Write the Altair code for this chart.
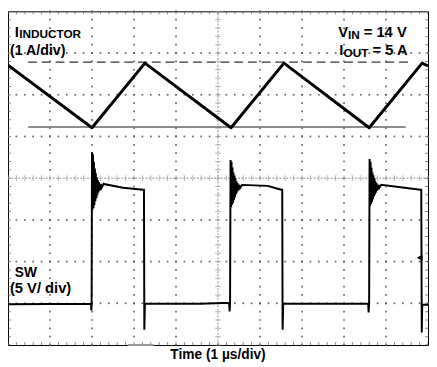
import altair as alt
import pandas as pd

# ---- traces (time in divisions = µs, amplitude in screen divisions, 0 = bottom) ----
ind_t = [0.00, 2.00, 3.26, 5.31, 6.57, 8.60, 9.86, 10.00]
ind_v = [6.71, 5.21, 6.76, 5.21, 6.76, 5.21, 6.76, 6.69]

# switch node: low level, rising edge with ringing, high level, falling edge (x3)
sw_t = [0.000, 1.977, 1.984, 1.991, 2.000,
        2.0115, 2.0230, 2.0345, 2.0460, 2.0575, 2.0690, 2.0805, 2.0920, 2.1034, 2.1149,
        2.1264, 2.1379, 2.1494, 2.1655, 2.1839, 2.2069, 2.2299, 2.2759,
        2.736, 3.218, 3.237, 3.246, 3.260,
        4.575, 5.264, 5.276, 5.287, 5.299,
        5.3105, 5.3220, 5.3335, 5.3450, 5.3565, 5.3680, 5.3795, 5.3910, 5.4024, 5.4139,
        5.4254, 5.4369, 5.4484, 5.4645, 5.4829, 5.5059, 5.5289, 5.5749,
        6.184, 6.506, 6.529, 6.538, 6.552,
        8.575, 8.586, 8.598, 8.609,
        8.6205, 8.6320, 8.6435, 8.6550, 8.6665, 8.6780, 8.6895, 8.7010, 8.7124, 8.7239,
        8.7354, 8.7469, 8.7584, 8.7745, 8.7929, 8.8159, 8.8389, 8.8849,
        9.816, 9.839, 9.851, 9.862, 10.000]
sw_v = [0.977, 0.989, 0.828, 0.989, 4.621,
        3.241, 4.575, 3.287, 4.391, 3.356, 4.230, 3.448, 4.115, 3.517, 4.023,
        3.586, 3.954, 3.655, 3.908, 3.701, 3.862, 3.770, 3.862,
        3.770, 3.724, 3.724, 0.368, 0.989,
        0.989, 1.011, 0.805, 1.011, 4.437,
        3.310, 4.391, 3.356, 4.253, 3.402, 4.138, 3.471, 4.069, 3.540, 4.000,
        3.609, 3.931, 3.655, 3.885, 3.701, 3.839, 3.770, 3.839,
        3.816, 3.724, 3.724, 0.368, 0.989,
        0.989, 0.782, 0.989, 4.460,
        3.333, 4.391, 3.379, 4.253, 3.425, 4.138, 3.494, 4.069, 3.563, 4.000,
        3.609, 3.931, 3.655, 3.885, 3.701, 3.839, 3.770, 3.839,
        3.724, 3.724, 0.299, 0.966, 0.966]

# cursor lines (peak / valley of inductor current)
cursor_y = [6.782, 5.225]
cursor_x0 = [0.48, 0.48]
cursor_x1 = [9.63, 9.47]

# ---- screen grid ----
major_x = [1, 2, 3, 4, 6, 7, 8, 9]
major_y = [1, 2, 3, 5, 6, 7]
fine_x = [i / 5 for i in range(51)]
fine_y = [i / 5 for i in range(41)]

dots = pd.DataFrame(
    [{"x": gx, "y": fy} for gx in major_x for fy in fine_y]
    + [{"x": fx, "y": gy} for gy in major_y for fx in fine_x]
)

# ---- labels ----
labels = pd.DataFrame([
    {"x": 0.161, "y": 7.380, "dx": 0, "t": "I", "s": 15},
    {"x": 0.161, "y": 7.350, "dx": 4.5, "t": "INDUCTOR", "s": 12},
    {"x": 0.046, "y": 6.960, "dx": 0, "t": "(1 A/div)", "s": 14.5},
    {"x": 7.862, "y": 7.379, "dx": 0, "t": "V", "s": 15},
    {"x": 7.862, "y": 7.345, "dx": 10, "t": "IN", "s": 12},
    {"x": 7.862, "y": 7.379, "dx": 26, "t": "= 14 V", "s": 15},
    {"x": 7.885, "y": 6.949, "dx": 0, "t": "I", "s": 15},
    {"x": 7.885, "y": 6.915, "dx": 4.5, "t": "OUT", "s": 12},
    {"x": 7.885, "y": 6.949, "dx": 34, "t": "= 5 A", "s": 15},
    {"x": 0.161, "y": 1.632, "dx": 0, "t": "SW", "s": 14},
    {"x": 0.046, "y": 1.241, "dx": 0, "t": "(5 V/ div)", "s": 15},
])
xlabel = pd.DataFrame([{"x": 5.0, "y": -0.345, "t": "Time (1 µs/div)"}])

XS = alt.Scale(domain=[0, 10], nice=False, zero=False)
YS = alt.Scale(domain=[0, 8], nice=False, zero=False)


def X(f="x"):
    return alt.X(f + ":Q", scale=XS, axis=None)


def Y(f="y"):
    return alt.Y(f + ":Q", scale=YS, axis=None)


layers = []

# grid dots
layers.append(alt.Chart(dots).mark_square(size=3, color="#555", opacity=0.9).encode(x=X(), y=Y()))

# center lines
cl = pd.DataFrame({"x": [0, 5], "x2": [10, 5], "y": [4, 0], "y2": [4, 8]})
layers.append(alt.Chart(cl).mark_rule(color="#b5b5b5", strokeWidth=1.5, strokeDash=[2, 1.5]).encode(
    x=X(), x2="x2:Q", y=Y(), y2="y2:Q"))
layers.append(alt.Chart(pd.DataFrame({"x": fine_x, "y": [4] * len(fine_x)})).mark_tick(
    orient="vertical", size=6, thickness=1, color="#999").encode(x=X(), y=Y()))
layers.append(alt.Chart(pd.DataFrame({"x": [5] * len(fine_y), "y": fine_y})).mark_tick(
    orient="horizontal", size=6, thickness=1, color="#999").encode(x=X(), y=Y()))

# border ticks
bt = pd.DataFrame({"x": fine_x * 2, "y": [0] * len(fine_x) + [8] * len(fine_x)})
layers.append(alt.Chart(bt).mark_tick(orient="vertical", size=6, thickness=1, color="#555", clip=True).encode(
    x=X(), y=Y()))
lt = pd.DataFrame({"x": [0] * len(fine_y) + [10] * len(fine_y), "y": fine_y * 2})
layers.append(alt.Chart(lt).mark_tick(orient="horizontal", size=6, thickness=1, color="#555", clip=True).encode(
    x=X(), y=Y()))

# cursors
cur = pd.DataFrame({"x": cursor_x0, "x2": cursor_x1, "y": cursor_y, "k": ["dash", "solid"]})
layers.append(alt.Chart(cur[cur.k == "dash"]).mark_rule(color="#333", strokeWidth=1.2, strokeDash=[9, 5]).encode(
    x=X(), x2="x2:Q", y=Y()))
layers.append(alt.Chart(cur[cur.k == "solid"]).mark_rule(color="#666", strokeWidth=1.5).encode(
    x=X(), x2="x2:Q", y=Y()))

# traces
ind = pd.DataFrame({"x": ind_t, "y": ind_v, "o": range(len(ind_t))})
layers.append(alt.Chart(ind).mark_line(color="black", strokeWidth=3, strokeJoin="round").encode(
    x=X(), y=Y(), order="o:Q"))
sw = pd.DataFrame({"x": sw_t, "y": sw_v, "o": range(len(sw_t))})
layers.append(alt.Chart(sw).mark_line(color="black", strokeWidth=2, strokeJoin="miter").encode(
    x=X(), y=Y(), order="o:Q"))

# channel ground marker and trigger-position bar
layers.append(alt.Chart(pd.DataFrame({"x": [9.80], "y": [2.092]})).mark_point(
    shape="triangle-left", filled=True, size=45, color="black", opacity=1).encode(x=X(), y=Y()))
layers.append(alt.Chart(pd.DataFrame({"x": [2.851], "x2": [3.471], "y": [0.0]})).mark_rule(
    color="#999", strokeWidth=2).encode(x=X(), x2="x2:Q", y=Y()))

# labels
for _, r in labels.iterrows():
    layers.append(alt.Chart(pd.DataFrame([r])).mark_text(
        align="left", baseline="alphabetic", font="Liberation Sans", fontWeight="bold",
        fontSize=float(r.s), dx=float(r.dx), color="black").encode(x=X(), y=Y(), text="t:N"))
layers.append(alt.Chart(xlabel).mark_text(
    align="center", baseline="alphabetic", font="Liberation Sans", fontWeight="bold",
    fontSize=14, color="black").encode(x=X(), y=Y(), text="t:N"))

chart = alt.layer(*layers).properties(
    width=428, height=340,
    autosize=alt.AutoSizeParams(type="none"),
    padding={"left": 0, "top": 0, "right": 1, "bottom": 19},
).configure_view(stroke="black", strokeWidth=1)

chart.save("out.html", embed_options={"renderer": "svg", "actions": False})
